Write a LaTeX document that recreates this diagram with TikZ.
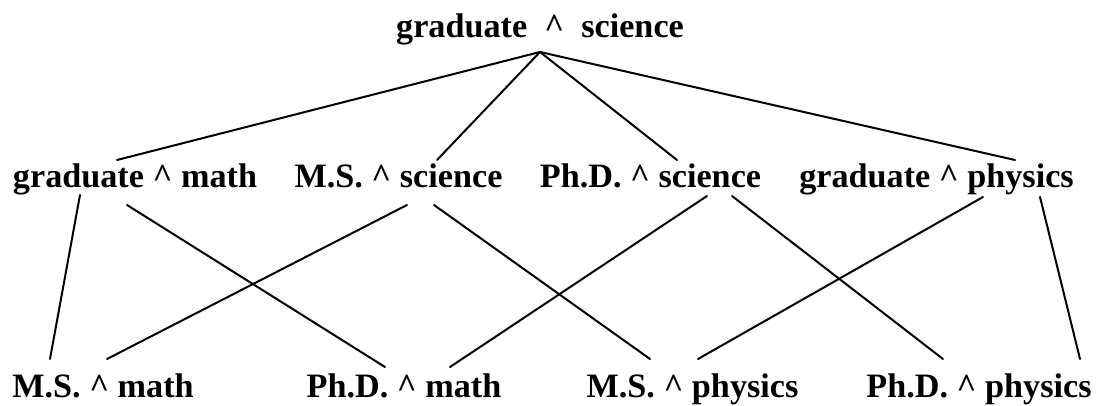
\documentclass[tikz,border=0pt]{standalone}
\usepackage{fontspec}
\setmainfont{Liberation Serif}
\usetikzlibrary{calc}
\tikzset{
  term/.style = {inner sep=0pt, anchor=base,
                 font=\fontsize{34.2pt}{40pt}\selectfont\bfseries},
  link/.style = {line width=2pt, line cap=round},
}
\newcommand{\wedgeop}{\textasciicircum{}}

\begin{document}
\begin{tikzpicture}[x=1pt, y=-1pt]
  \useasboundingbox (0,0) rectangle (1099,406);
  % top
  \node[term] (gs) at (540,38) {graduate~ \wedgeop{} ~science};
  % middle row
  \node[term] (gm) at (135,187)   {graduate \wedgeop{} math};
  \node[term] (ms) at (398.5,187) {M.S. \wedgeop{} science};
  \node[term] (ps) at (650.5,187) {Ph.D. \wedgeop{} science};
  \node[term] (gp) at (936.5,187) {graduate \wedgeop{} physics};
  % bottom row
  \node[term] (mm) at (103,397)   {M.S. \wedgeop{} math};
  \node[term] (pm) at (404,397)   {Ph.D. \wedgeop{} math};
  \node[term] (mp) at (692.5,397) {M.S. \wedgeop{} physics};
  \node[term] (pp) at (979,397)   {Ph.D. \wedgeop{} physics};
  % top to middle
  \coordinate (apex) at ($(gs.base)+(0,14)$);
  \draw[link] (apex) -- ($(gm.base)+(-18,-27)$);
  \draw[link] (apex) -- ($(ms.base)+(38.5,-27)$);
  \draw[link] (apex) -- ($(ps.base)+(26.5,-27)$);
  \draw[link] (apex) -- ($(gp.base)+(78.5,-27)$);
  % middle to bottom
  \draw[link] ($(gm.base)+(-55,8)$)    -- ($(mm.base)+(-53,-38)$);
  \draw[link] ($(gm.base)+(-8,18)$)    -- ($(pm.base)+(-19,-30)$);
  \draw[link] ($(ms.base)+(8.5,18)$)   -- ($(mm.base)+(4,-38)$);
  \draw[link] ($(ms.base)+(35.5,18)$)  -- ($(mp.base)+(-42.5,-38)$);
  \draw[link] ($(ps.base)+(56.5,9)$)   -- ($(pm.base)+(46,-30)$);
  \draw[link] ($(ps.base)+(81.5,9)$)   -- ($(pp.base)+(-36,-38)$);
  \draw[link] ($(gp.base)+(46.5,10)$)  -- ($(mp.base)+(5.5,-38)$);
  \draw[link] ($(gp.base)+(103.5,10)$) -- ($(pp.base)+(101,-38)$);
\end{tikzpicture}
\end{document}
